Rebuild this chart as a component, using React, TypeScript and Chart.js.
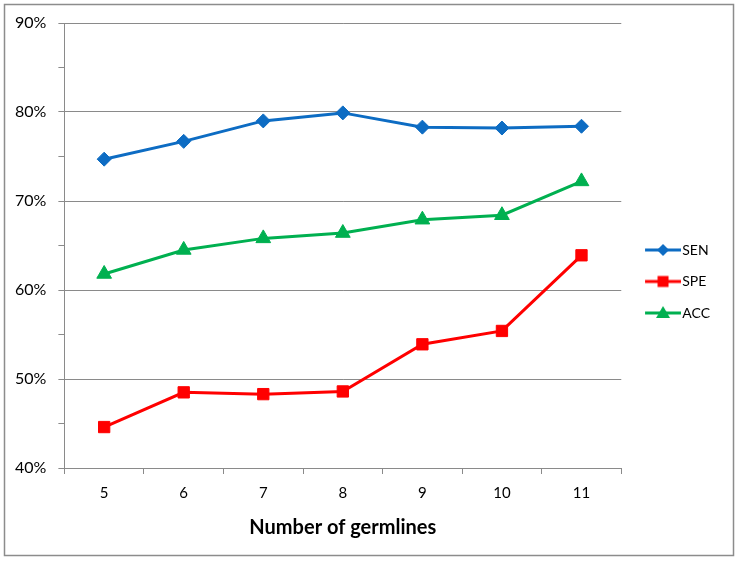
import React, { useEffect, useRef } from "react";
import { Chart, registerables } from "chart.js";

Chart.register(...registerables);

const categories = ["5", "6", "7", "8", "9", "10", "11"];
const senValues = [74.7, 76.7, 79.0, 79.9, 78.3, 78.2, 78.4];
const speValues = [44.6, 48.5, 48.3, 48.6, 53.9, 55.4, 63.9];
const accValues = [61.8, 64.5, 65.8, 66.4, 67.9, 68.4, 72.2];
const seriesNames = ["SEN", "SPE", "ACC"];
const seriesColors = ["#0D6CC3", "#FF0000", "#00B050"];
const seriesMarkers = ["rectRot", "rect", "triangle"];
const xTitle = "Number of germlines";

const FONT = "Lato, 'Open Sans', sans-serif";
const GRID = "#8a8a8a";

function makeLegendIcon(color: string, marker: string): HTMLCanvasElement {
  const c = document.createElement("canvas");
  c.width = 48;
  c.height = 16;
  const ctx = c.getContext("2d")!;
  ctx.strokeStyle = color;
  ctx.fillStyle = color;
  ctx.lineWidth = 3;
  ctx.beginPath();
  ctx.moveTo(12, 8);
  ctx.lineTo(48, 8);
  ctx.stroke();
  const cx = 30, cy = 8;
  ctx.beginPath();
  if (marker === "rectRot") {
    ctx.moveTo(cx, cy - 6);
    ctx.lineTo(cx + 6, cy);
    ctx.lineTo(cx, cy + 6);
    ctx.lineTo(cx - 6, cy);
  } else if (marker === "rect") {
    ctx.rect(cx - 5.5, cy - 5.5, 11, 11);
  } else {
    ctx.moveTo(cx, cy - 7);
    ctx.lineTo(cx + 7, cy + 5);
    ctx.lineTo(cx - 7, cy + 5);
  }
  ctx.closePath();
  ctx.fill();
  return c;
}

const borderPlugin = {
  id: "outerBorder",
  beforeDraw(chart: any) {
    const { ctx, width, height } = chart;
    ctx.save();
    ctx.fillStyle = "#ffffff";
    ctx.fillRect(0, 0, width, height);
    ctx.restore();
  },
  afterDraw(chart: any) {
    const { ctx } = chart;
    ctx.save();
    ctx.strokeStyle = "#8c8c8c";
    ctx.lineWidth = 1.5;
    ctx.strokeRect(4.5, 4.5, 729, 551);
    ctx.restore();
  },
};

export default function App() {
  const ref = useRef<HTMLCanvasElement>(null);

  useEffect(() => {
    const icons = seriesColors.map((c, i) => makeLegendIcon(c, seriesMarkers[i]));
    const values = [senValues, speValues, accValues];
    const chart = new Chart(ref.current!, {
      type: "line",
      data: {
        labels: categories,
        datasets: values.map((v, i) => ({
          label: seriesNames[i],
          data: v,
          borderColor: seriesColors[i],
          backgroundColor: seriesColors[i],
          borderWidth: 3,
          tension: 0,
          pointStyle: seriesMarkers[i] as any,
          pointRadius: i === 0 ? 7 : i === 1 ? 8 : 8.5,
          pointBorderWidth: 1,
          pointBorderColor: seriesColors[i],
          pointBackgroundColor: seriesColors[i],
        })),
      },
      options: {
        responsive: false,
        animation: false,
        layout: { padding: { left: 3, right: 18, top: 23, bottom: 22 } },
        plugins: {
          tooltip: { enabled: false },
          legend: {
            position: "right",
            labels: {
              usePointStyle: true,
              pointStyleWidth: 36.5,
              padding: 17.5,
              color: "#000",
              font: { family: FONT, size: 14 },
              generateLabels: (ch: any) =>
                ch.data.datasets.map((d: any, i: number) => ({
                  text: d.label,
                  pointStyle: icons[i],
                  fillStyle: seriesColors[i],
                  strokeStyle: seriesColors[i],
                  lineWidth: 0,
                  hidden: false,
                  datasetIndex: i,
                  fontColor: "#000",
                })),
            },
          },
        },
        scales: {
          x: {
            type: "category",
            offset: true,
            border: { color: GRID, width: 1 },
            grid: {
              offset: true,
              drawOnChartArea: false,
              drawTicks: true,
              tickLength: 6,
              tickColor: GRID,
            },
            ticks: {
              color: "#000",
              padding: 10,
              font: { family: FONT, size: 15 },
            },
            title: {
              display: true,
              text: xTitle,
              color: "#000",
              font: { family: FONT, size: 20, weight: "bold" },
              padding: { top: 4, bottom: 0 },
            },
          },
          y: {
            min: 40,
            max: 90,
            border: { color: GRID, width: 1 },
            grid: {
              color: (ctx: any) => (ctx.index % 2 === 0 ? GRID : "rgba(0,0,0,0)"),
              tickColor: GRID,
              tickLength: 6,
              lineWidth: 1,
            },
            ticks: {
              stepSize: 5,
              color: "#000",
              padding: 12,
              font: { family: FONT, size: 16 },
              callback: (v: any, i: number) => (i % 2 === 0 ? `${Math.round(v)}%` : ""),
            },
          },
        },
      },
      plugins: [borderPlugin],
    });
    return () => chart.destroy();
  }, []);

  return (
    <div style={{ position: "absolute", left: 0, top: 0, width: 738, height: 562 }}>
      <canvas ref={ref} width={738} height={562} />
    </div>
  );
}
